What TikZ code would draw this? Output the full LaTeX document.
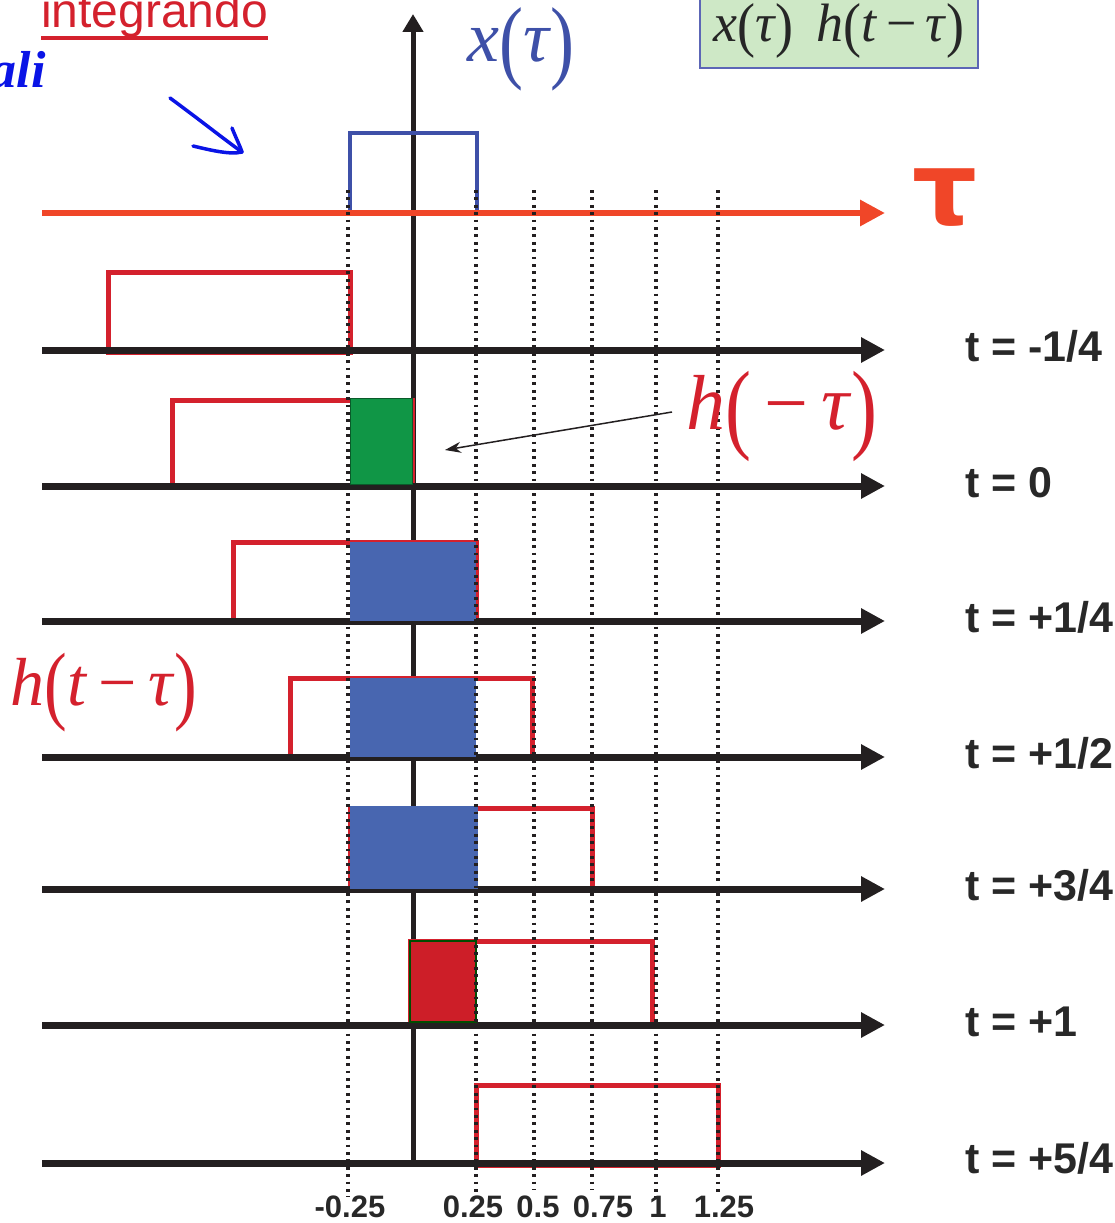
\documentclass[tikz,border=0pt]{standalone}
\usepackage{fontspec}
\usepackage{graphicx}
\setmainfont{Liberation Serif}
\setsansfont{Liberation Sans}
\newfontfamily\dvsans{DejaVu Sans}
\usetikzlibrary{arrows.meta}
\definecolor{axisblack}{RGB}{35,31,32}
\definecolor{hred}{RGB}{212,33,45}
\definecolor{taured}{RGB}{240,70,40}
\definecolor{xblue}{RGB}{62,80,168}
\definecolor{fillblue}{RGB}{72,102,176}
\definecolor{fillgreen}{RGB}{16,150,70}
\definecolor{fillred}{RGB}{205,30,40}
\definecolor{boxgreen}{RGB}{206,232,198}
\definecolor{boxborder}{RGB}{92,102,182}
\definecolor{inkblue}{RGB}{10,20,230}
\definecolor{labelgray}{RGB}{40,40,40}
\newcommand\lpar{\raisebox{-0.13em}{\scalebox{1}[1.28]{(}}}
\newcommand\rpar{\raisebox{-0.13em}{\scalebox{1}[1.28]{)}}}
\newcommand\lparb{\raisebox{-0.08em}{\scalebox{1}[1.12]{(}}}
\newcommand\rparb{\raisebox{-0.08em}{\scalebox{1}[1.12]{)}}}
\begin{document}
\begin{tikzpicture}[x=1pt,y=-1pt,
  haxis/.style={line width=7pt, draw=axisblack, -{Triangle[length=24pt,width=24pt]}},
  vaxis/.style={line width=5pt, draw=axisblack, -{Triangle[length=18pt,width=20pt]}},
  tauaxis/.style={line width=6pt, draw=taured, -{Triangle[length=25pt,width=25pt]}},
  hrect/.style={draw=hred, line width=5pt},
  xrect/.style={draw=xblue, line width=4pt},
  gridline/.style={draw=axisblack, line width=3.4pt, dash pattern=on 2.8pt off 4.6pt},
  tlabel/.style={font=\sffamily\bfseries\fontsize{43}{43}\selectfont, text=labelgray, anchor=base west, inner sep=0pt},
  ticklabel/.style={font=\sffamily\bfseries\fontsize{31}{31}\selectfont, text=labelgray, anchor=base, inner sep=0pt},
  mathlbl/.style={inner sep=0pt},
  ink/.style={draw=inkblue, line width=3.5pt, line cap=round, line join=round}
]
\useasboundingbox (0,0) rectangle (1115,1223);

% vertical axis
\coordinate (vbot) at (413,1163);
\coordinate (vtop) at (413,14);
\draw[vaxis] (vbot) -- (vtop);

% red outlines h(t - tau)
\draw[hrect] (108,272) rectangle (350,352);
\draw[hrect] (172,400) rectangle (412,485);
\draw[hrect] (233,542) rectangle (476,622);
\draw[hrect] (290,678) rectangle (532,758);
\draw[hrect] (350,808) rectangle (592,890);
\draw[hrect] (410,941) rectangle (652,1024);
\draw[hrect] (476,1085) rectangle (718,1165);

% x(tau)
\draw[xrect] (350,213) -- (350,133) -- (477,133) -- (477,213);

% horizontal axes
\foreach \n/\yy in {1/350,2/486,3/621,4/757,5/889,6/1025,7/1163}{
  \coordinate (as\n) at (42,\yy);
  \coordinate (ae\n) at (885,\yy);
  \draw[haxis] (as\n) -- (ae\n);
}
\coordinate (tas) at (42,213);
\coordinate (tae) at (885,213);
\draw[tauaxis] (tas) -- (tae);

% fills
\fill[fillgreen] (350,398) rectangle (412,484);
\draw[fillgreen!60!black, line width=1pt] (350,398) rectangle (412,484);
\fill[fillblue] (350,542) rectangle (476,621);
\fill[fillblue] (350,678) rectangle (476,757);
\fill[fillblue] (350,806) rectangle (478,889);
\fill[fillred] (410,941) rectangle (476,1022);
\draw[black!50!green!60!black, line width=2pt] (410,941) rectangle (476,1022);

% dotted grid lines
\foreach \xx/\yb in {348/1197,476/1192,534/1190,592/1190,656/1200,718/1196}{
  \draw[gridline] (\xx,190) -- (\xx,\yb);
}

% tick labels
\node[ticklabel] (tk1) at (350,1217) {-0.25};
\node[ticklabel] (tk2) at (473,1217) {0.25};
\node[ticklabel] (tk3) at (538,1217) {0.5};
\node[ticklabel] (tk4) at (603,1217) {0.75};
\node[ticklabel] (tk5) at (658,1217) {1};
\node[ticklabel] (tk6) at (724,1217) {1.25};

% t labels
\node[tlabel] (t1) at (965,361) {t = -1/4};
\node[tlabel] (t2) at (965,497) {t = 0};
\node[tlabel] (t3) at (965,632) {t = +1/4};
\node[tlabel] (t4) at (965,768) {t = +1/2};
\node[tlabel] (t5) at (965,900) {t = +3/4};
\node[tlabel] (t6) at (965,1036) {t = +1};
\node[tlabel] (t7) at (965,1173) {t = +5/4};

% tau label
\node[inner sep=0pt, text=taured] (tau) at (945,198) {\dvsans\bfseries\fontsize{102}{102}\selectfont τ};

% x(tau) label
\node[mathlbl, text=xblue, font=\fontsize{72}{72}\selectfont] (xl) at (521,49) {\textit{x}\lpar\textit{τ}\rpar};

% h(-tau) label
\node[mathlbl, text=hred, font=\fontsize{78}{78}\selectfont] (hm) at (782,416) {\textit{h}\lpar\,−\,\textit{τ}\rpar};
\coordinate (hmtail) at (672,412);
\coordinate (hmtip) at (445,450);
\draw[line width=1.5pt, draw=axisblack, -{Stealth[length=16pt,width=11pt]}] (hmtail) -- (hmtip);

% h(t - tau) label
\node[mathlbl, text=hred, font=\fontsize{68}{68}\selectfont] (ht) at (104,693) {\textit{h}\lpar\textit{t}\,−\,\textit{τ}\rpar};

% product box
\node[draw=boxborder, line width=2.5pt, fill=boxgreen, minimum width=278pt, minimum height=70pt, inner sep=0pt] (prod) at (839,33) {};
\node[inner sep=0pt, text=black!85, font=\fontsize{54}{54}\selectfont] (prodtext) at (839,31)
  {\textit{x}\lparb\textit{τ}\rparb\ \,\textit{h}\lparb\textit{t}\,−\,\textit{τ}\rparb};

% integrando
\node[inner sep=0pt, anchor=base west, text=hred, font=\sffamily\fontsize{48}{48}\selectfont] (integ) at (41,28) {integrando};
\draw[hred, line width=4pt] (integ.west |- 0,38) -- (integ.east |- 0,38);

% handwriting
\node[inner sep=0pt, anchor=base east, text=inkblue, font=\itshape\bfseries\fontsize{52}{52}\selectfont] (ali) at (46,88) {ali};
\coordinate (ha1) at (170,98);
\coordinate (ha2) at (242,152);
\draw[ink] (ha1) .. controls (200,120) and (225,140) .. (ha2);
\draw[ink] (232,128) .. controls (236,138) and (240,146) .. (ha2);
\draw[ink] (193,146) .. controls (210,150) and (230,155) .. (ha2);
\end{tikzpicture}
\end{document}
